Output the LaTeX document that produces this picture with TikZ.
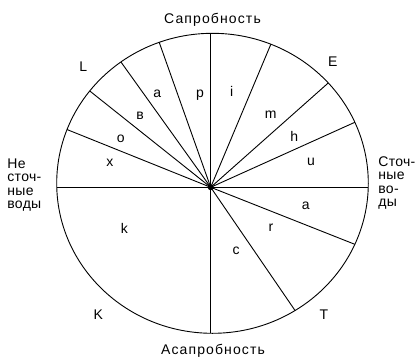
\documentclass[tikz,border=0pt]{standalone}
\usepackage{fontspec}
\newfontfamily\lblfont[LetterSpace=8]{Liberation Sans}
\newfontfamily\sidefont[LetterSpace=2]{Liberation Sans}

\tikzset{
  lbl/.style={font=\lblfont\fontsize{14}{13.5}\selectfont, inner sep=0pt},
  side/.style={font=\sidefont\fontsize{14}{13.5}\selectfont, inner sep=0pt,
               align=left, anchor=north west}
}

\begin{document}
\begin{tikzpicture}[x=1pt, y=-1pt, line width=0.9pt]
        % --- 1. Parameters ---
        \def\cx{212.5}
        \def\cy{183.3}
        \def\rx{155.8}
        \def\ry{150}

        \useasboundingbox (0,0) rectangle (416,357);
        \coordinate (O) at (210.7,187.3);

        % --- 2. Circle and axes ---
        \draw (\cx,\cy) ellipse ({\rx} and {\ry});
        \coordinate (N) at (210.7,33.3);
        \coordinate (S) at (210.7,333.3);
        \coordinate (W) at (56.75,187.3);
        \coordinate (E) at (368.25,187.3);
        \draw (N) -- (S);
        \draw (W) -- (E);

        % --- 3. Sector borders ---
        \foreach \t in {110,126,142,159,68,42,24,-24,-58}
            \draw (O) -- ({\cx+\rx*cos(\t)},{\cy-\ry*sin(\t)});
        \fill (O) circle (3);

        % --- 4. Labels ---
        \node[lbl, anchor=base] at (212.5,23.3) {Сапробность};
        \node[lbl, anchor=base] at (213,354) {Асапробность};
        \node[side] at (7,158) {Не\\сточ-\\ные\\воды};
        \node[side] at (378,156) {Сточ-\\ные\\во-\\ды};

        \node[lbl] at (83.3,66.7) {L};
        \node[lbl] at (332.7,61.7) {E};
        \node[lbl] at (98.3,315) {K};
        \node[lbl] at (324,315) {T};

        \node[lbl] at (200,95) {p};
        \node[lbl] at (157.3,93.3) {a};
        \node[lbl] at (140,116) {в};
        \node[lbl] at (120.7,138.3) {o};
        \node[lbl] at (110,162.3) {x};
        \node[lbl] at (231.7,91.7) {i};
        \node[lbl] at (270.7,115) {m};
        \node[lbl] at (294.3,136.7) {h};
        \node[lbl] at (311,161.7) {u};
        \node[lbl] at (305.7,205.7) {a};
        \node[lbl] at (271,227.3) {r};
        \node[lbl] at (236,250.7) {c};
        \node[lbl] at (124.3,228.3) {k};
    \end{tikzpicture}
\end{document}
